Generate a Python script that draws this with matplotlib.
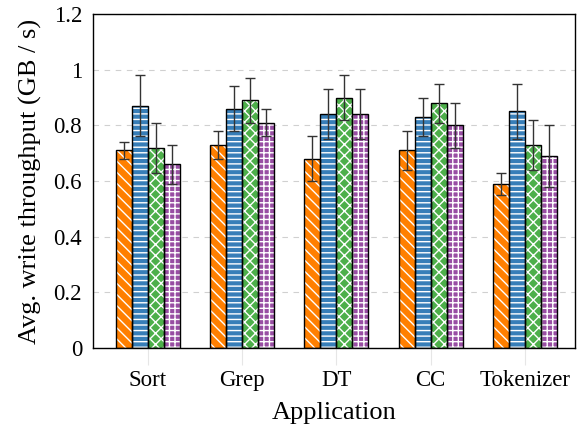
import matplotlib
matplotlib.use("Agg")
import matplotlib.pyplot as plt
import numpy as np

apps = ["Sort", "Grep", "DT", "CC", "Tokenizer"]
s1 = [0.71, 0.73, 0.68, 0.71, 0.59]
e1 = [0.03, 0.05, 0.08, 0.07, 0.04]
s2 = [0.87, 0.86, 0.84, 0.83, 0.85]
e2 = [0.11, 0.08, 0.09, 0.07, 0.10]
s3 = [0.72, 0.89, 0.90, 0.88, 0.73]
e3 = [0.09, 0.08, 0.08, 0.07, 0.09]
s4 = [0.66, 0.81, 0.84, 0.80, 0.69]
e4 = [0.07, 0.05, 0.09, 0.08, 0.11]

series = [s1, s2, s3, s4]
errs = [e1, e2, e3, e4]
colors = ["#FF7F00", "#377EB8", "#4DAF4A", "#984EA3"]
hatches = ["\\\\\\", "---", "xxx", "+++"]

plt.rcParams["font.family"] = ["Liberation Serif", "DejaVu Serif"]
plt.rcParams["hatch.linewidth"] = 1.0

fig = plt.figure(figsize=(5.82, 4.38), dpi=100)
ax = fig.add_axes([0.160, 0.2055, 0.828, 0.7625])

x = np.arange(len(apps))
w = 0.17
for i, (vals, err, c, h) in enumerate(zip(series, errs, colors, hatches)):
    pos = x + (i - 1.5) * w
    ax.bar(pos, vals, w, color=c, edgecolor="white", hatch=h, linewidth=0, zorder=2)
    ax.bar(pos, vals, w, fill=False, edgecolor="black", linewidth=1.0, zorder=3)
    ax.errorbar(pos, vals, yerr=err, fmt="none", ecolor="#333333", elinewidth=1.0,
                capsize=3.5, capthick=1.0, zorder=4)

ax.set_ylim(0, 1.2)
ax.set_xlim(-0.58, 4.53)
ax.set_yticks([0, 0.2, 0.4, 0.6, 0.8, 1.0, 1.2])
ax.set_yticklabels(["0", "0.2", "0.4", "0.6", "0.8", "1", "1.2"])
ax.set_xticks(x)
ax.set_xticklabels(apps)
ax.yaxis.grid(True, linestyle=(0, (5, 5)), color="#d0d0d0", linewidth=0.8, zorder=0)
ax.set_axisbelow(True)
ax.tick_params(axis="y", length=0, labelsize=16.5, pad=8)
ax.tick_params(axis="x", length=12, color="#e6e6e6", labelsize=16.5, pad=4)
for sp in ax.spines.values():
    sp.set_linewidth(1.0)
ax.set_ylabel("Avg. write throughput (GB / s)", fontsize=19, labelpad=8)
ax.set_xlabel("Application", fontsize=19, labelpad=8)

fig.savefig("out.png", dpi=100)
